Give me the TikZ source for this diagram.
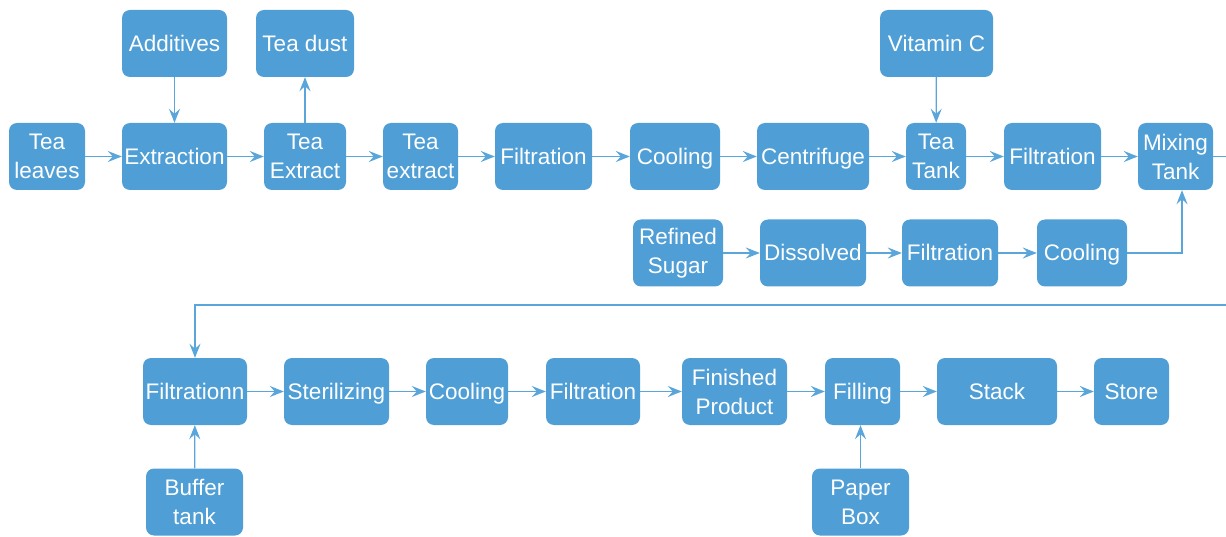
\documentclass[tikz,border=0pt]{standalone}
\usepackage{fontspec}
\setmainfont{Liberation Sans}
\usetikzlibrary{arrows.meta,calc}
\definecolor{boxblue}{HTML}{4F9FD6}
\definecolor{lineblue}{HTML}{5AA6DB}
\tikzset{
  box/.style={draw=none, fill=boxblue, rounded corners=8pt, text=white, align=center,
    inner sep=0pt, minimum height=67pt, font=\fontsize{22.5}{29}\selectfont},
  one/.style={box, text height=19pt, text depth=3pt},
  conn/.style={draw=lineblue, line width=1.3pt, -{Stealth[length=14pt,width=11pt,inset=5pt]}}
}
\begin{document}
\begin{tikzpicture}[x=1pt,y=-1pt]
\useasboundingbox (0,0) rectangle (1226,537);
% top row
\node[one, minimum width=105pt] (add) at (174.5,43.5) {Additives};
\node[one, minimum width=98pt] (dust) at (305,43.5) {Tea dust};
\node[one, minimum width=113pt] (vitc) at (936.5,43.5) {Vitamin C};
% row 1
\node[box, minimum width=76pt] (tl) at (47,156.5) {Tea\\leaves};
\node[one, minimum width=105pt] (ext) at (174.5,156.5) {Extraction};
\node[box, minimum width=82pt] (teaE) at (305,156.5) {Tea\\Extract};
\node[box, minimum width=75pt] (teae) at (420.5,156.5) {Tea\\extract};
\node[one, minimum width=97pt] (filt1) at (543.5,156.5) {Filtration};
\node[one, minimum width=90pt] (cool1) at (675,156.5) {Cooling};
\node[one, minimum width=112pt] (cent) at (813,156.5) {Centrifuge};
\node[box, minimum width=60pt] (tank) at (936,156.5) {Tea\\Tank};
\node[one, minimum width=97pt] (filt2) at (1052.5,156.5) {Filtration};
\node[box, minimum width=75pt] (mix) at (1175.5,156.5) {Mixing\\Tank};
% row 2
\node[box, minimum width=90pt] (sugar) at (678,253) {Refined\\Sugar};
\node[one, minimum width=106pt] (diss) at (813,253) {Dissolved};
\node[one, minimum width=96pt] (filt3) at (950,253) {Filtration};
\node[one, minimum width=90pt] (cool2) at (1082,253) {Cooling};
% row 3
\node[one, minimum width=104pt] (filtn) at (195,391.5) {Filtrationn};
\node[one, minimum width=105pt] (ster) at (336.5,391.5) {Sterilizing};
\node[one, minimum width=82pt] (cool3) at (467,391.5) {Cooling};
\node[one, minimum width=94pt] (filt4) at (593,391.5) {Filtration};
\node[box, minimum width=105pt] (fin) at (734.5,391.5) {Finished\\Product};
\node[one, minimum width=75pt] (fill) at (862.5,391.5) {Filling};
\node[one, minimum width=120pt] (stack) at (997,391.5) {Stack};
\node[one, minimum width=75pt] (store) at (1131.5,391.5) {Store};
% bottom
\node[box, minimum width=97pt] (buf) at (194.5,502) {Buffer\\tank};
\node[box, minimum width=97pt] (paper) at (860.5,502) {Paper\\Box};
% connectors row 1
\draw[conn] (tl) -- (ext);
\draw[conn] (ext) -- (teaE);
\draw[conn] (teaE) -- (teae);
\draw[conn] (teae) -- (filt1);
\draw[conn] (filt1) -- (cool1);
\draw[conn] (cool1) -- (cent);
\draw[conn] (cent) -- (tank);
\draw[conn] (tank) -- (filt2);
\draw[conn] (filt2) -- (mix);
\draw[conn] (add) -- (ext);
\draw[conn] (teaE) -- (dust);
\draw[conn] (vitc) -- (tank);
% row 2
\draw[conn] (sugar) -- (diss);
\draw[conn] (diss) -- (filt3);
\draw[conn] (filt3) -- (cool2);
\draw[conn] (cool2.east) -| ([xshift=6.5pt]mix.south);
% wrap
\coordinate (c1) at (1245,156.5);
\coordinate (c2) at (1245,305);
\draw[conn] (mix.east) -- (c1) -- (c2) -| (filtn.north);
% row 3
\draw[conn] (filtn) -- (ster);
\draw[conn] (ster) -- (cool3);
\draw[conn] (cool3) -- (filt4);
\draw[conn] (filt4) -- (fin);
\draw[conn] (fin) -- (fill);
\draw[conn] (fill) -- (stack);
\draw[conn] (stack) -- (store);
\draw[conn] (buf) -- (filtn);
\draw[conn] (paper.north) -- (paper.north |- fill.south);
\end{tikzpicture}
\end{document}
